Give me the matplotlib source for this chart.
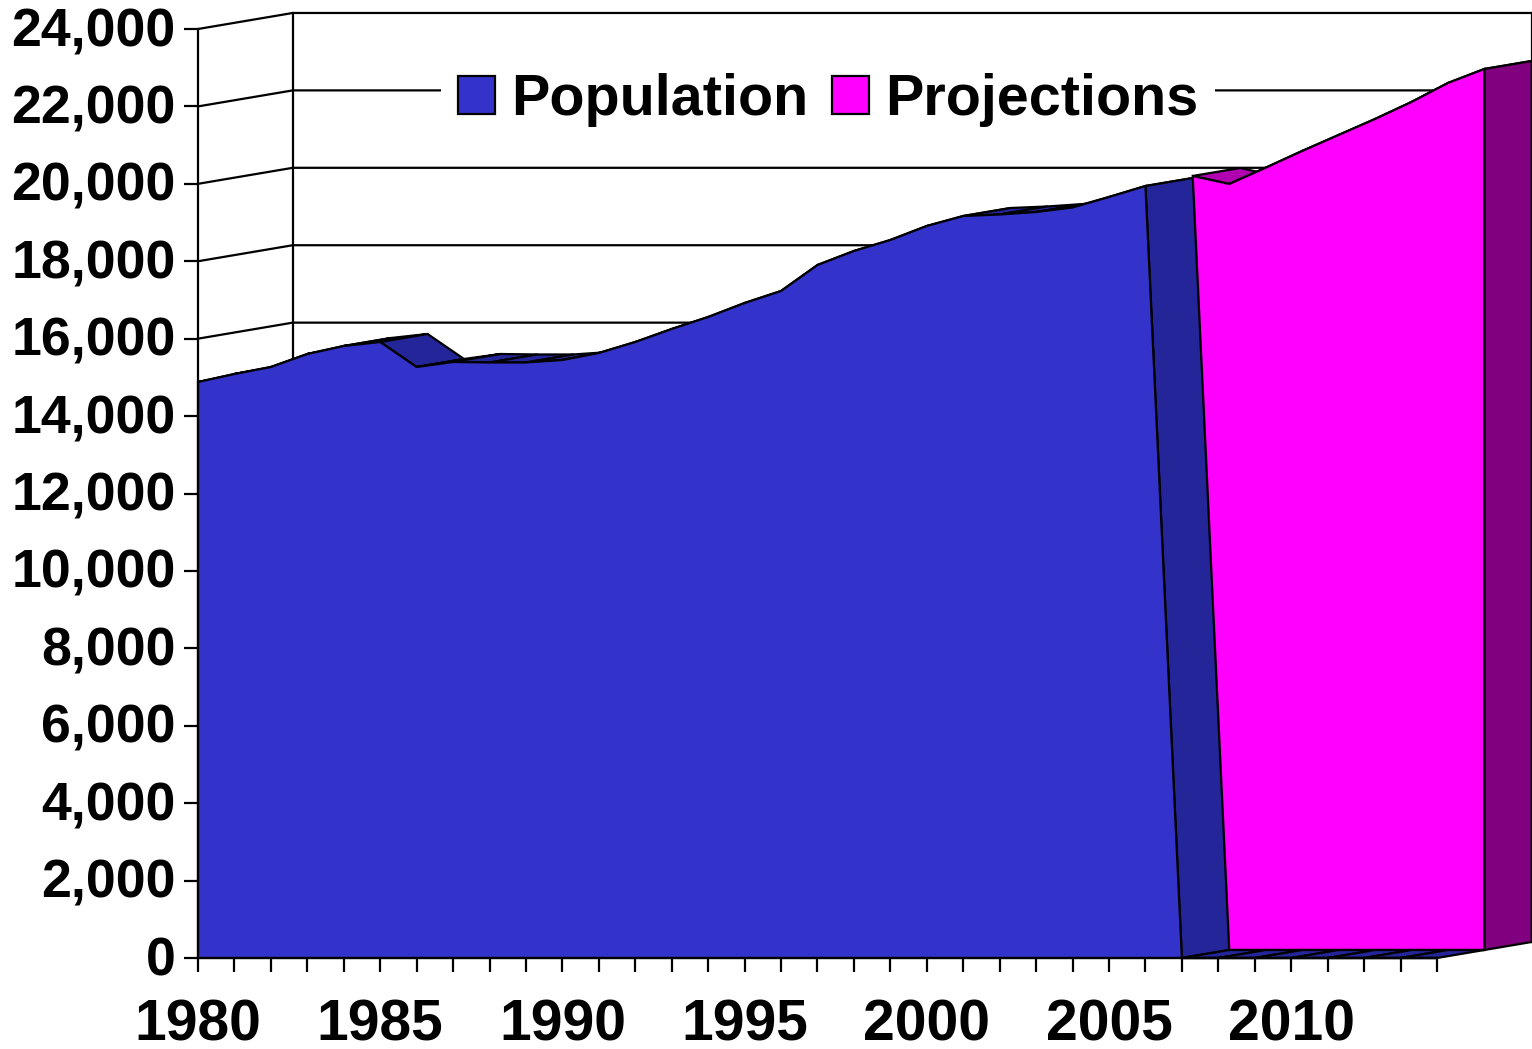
import numpy as np
import matplotlib
matplotlib.use("Agg")
import matplotlib.pyplot as plt
import matplotlib.transforms as mtrans
from matplotlib.patches import Patch

plt.rcParams['font.family'] = ['Liberation Sans', 'DejaVu Sans']
plt.rcParams['font.weight'] = 'bold'

pop_years = np.arange(1980, 2015)
population = [14880, 15087, 15268, 15604, 15811, 15914, 15268, 15397, 15385, 15385,
              15449, 15630, 15914, 16250, 16560, 16921, 17232, 17903, 18265, 18549,
              18911, 19169, 19208, 19272, 19389, 19660, 19944,
              0, 0, 0, 0, 0, 0, 0, 0]
proj_years = np.arange(2006, 2015)
projections = [19996, 19789, 20210, 20642, 21055, 21468, 21908, 22398, 22760]

y_ticks = np.arange(0, 24001, 2000)
x_labels = [1980, 1985, 1990, 1995, 2000, 2005, 2010]

# 3d look: each series is pushed back by this much, in data units
dx = 1.30
dy = 207

BLUE = '#3333cc'
BLUE_DARK = '#25259a'
MAGENTA = '#ff00ff'
MAGENTA_TOP = '#b000b0'
PURPLE = '#800080'
LW = 1.6


def extrude(ax, xs, ys, shift, color, zorder):
    # top surfaces between one year and the next, seen from above
    for i in range(len(xs) - 1):
        qx = [xs[i], xs[i + 1], xs[i + 1] + dx, xs[i] + dx]
        qy = [ys[i], ys[i + 1], ys[i + 1] + dy, ys[i] + dy]
        qx = [q + shift * dx for q in qx]
        qy = [q + shift * dy for q in qy]
        ax.fill(qx, qy, facecolor=color, edgecolor='black', lw=LW, zorder=zorder,
                clip_on=False, joinstyle='round')


fig = plt.figure(figsize=(15.32, 10.49), dpi=100)
ax = fig.add_axes([198 / 1532, (1049 - 958) / 1049, 1 - 198 / 1532, 929 / 1049])
ax.set_xlim(1980, 1980 + 1334 / 36.44)
ax.set_ylim(0, 24000)

# back wall and side wall grid
x0 = pop_years[0]
x1 = pop_years[-1]
for v in y_ticks[1:]:
    ax.plot([x0, x0 + 2 * dx, x1 + 2 * dx], [v, v + 2 * dy, v + 2 * dy],
            color='black', lw=LW, zorder=1, clip_on=False)
ax.plot([x0 + 2 * dx, x0 + 2 * dx], [2 * dy, 24000 + 2 * dy], color='black', lw=LW, zorder=1, clip_on=False)
ax.plot([x1 + 2 * dx, x1 + 2 * dx], [2 * dy, 24000 + 2 * dy], color='black', lw=LW, zorder=1, clip_on=False)

# projections sit one step behind population
extrude(ax, proj_years, projections, 1, MAGENTA_TOP, 2)
ax.fill([proj_years[-1] + dx, proj_years[-1] + 2 * dx, proj_years[-1] + 2 * dx, proj_years[-1] + dx],
        [dy, 2 * dy, projections[-1] + 2 * dy, projections[-1] + dy],
        facecolor=PURPLE, edgecolor='black', lw=LW, zorder=3, clip_on=False)
ax.fill(np.r_[proj_years[0], proj_years, proj_years[-1]] + dx,
        np.r_[0, projections, 0] + dy,
        facecolor=MAGENTA, edgecolor='black', lw=LW, zorder=4, clip_on=False)

# population
extrude(ax, pop_years, population, 0, BLUE_DARK, 5)
ax.fill(np.r_[pop_years[0], pop_years, pop_years[-1]],
        np.r_[0, population, 0],
        facecolor=BLUE, edgecolor='black', lw=LW, zorder=6, clip_on=False)

for s in ['top', 'right']:
    ax.spines[s].set_visible(False)
ax.spines['left'].set_linewidth(LW)
ax.spines['bottom'].set_linewidth(LW)
ax.spines['bottom'].set_bounds(x0, x1)
ax.spines['left'].set_zorder(7)
ax.spines['bottom'].set_zorder(7)

ax.set_yticks(y_ticks)
ax.set_yticklabels([f'{v:,}' for v in y_ticks], fontsize=38.6, fontweight='bold')
ax.set_xticks(x_labels)
ax.set_xticklabels([str(v) for v in x_labels], fontsize=41, fontweight='bold')
ax.set_xticks(pop_years, minor=True)
ax.tick_params(axis='y', length=10, width=LW, pad=6)
ax.tick_params(axis='x', which='both', length=10, width=LW, pad=19)

# y labels sit a little above their ticks
up = mtrans.ScaledTranslation(0, 1.8 / 72, fig.dpi_scale_trans)
for lab in ax.get_yticklabels():
    lab.set_transform(lab.get_transform() + up)

leg = ax.legend(handles=[Patch(facecolor=BLUE, edgecolor='black', label='Population'),
                         Patch(facecolor=MAGENTA, edgecolor='black', label='Projections')],
                loc='center', bbox_to_anchor=(828 / 1532, 1 - 100 / 1049),
                bbox_transform=fig.transFigure, ncol=2, fontsize=41.4, frameon=True,
                framealpha=1, facecolor='white', edgecolor='none', fancybox=False,
                handlelength=0.65, handleheight=0.65, handletextpad=0.27,
                columnspacing=0.42, borderpad=0.3)
leg.set_zorder(10)
leg.get_frame().set_linewidth(0)
for p in leg.get_patches():
    p.set_linewidth(LW)

fig.savefig('out.png', dpi=100)
